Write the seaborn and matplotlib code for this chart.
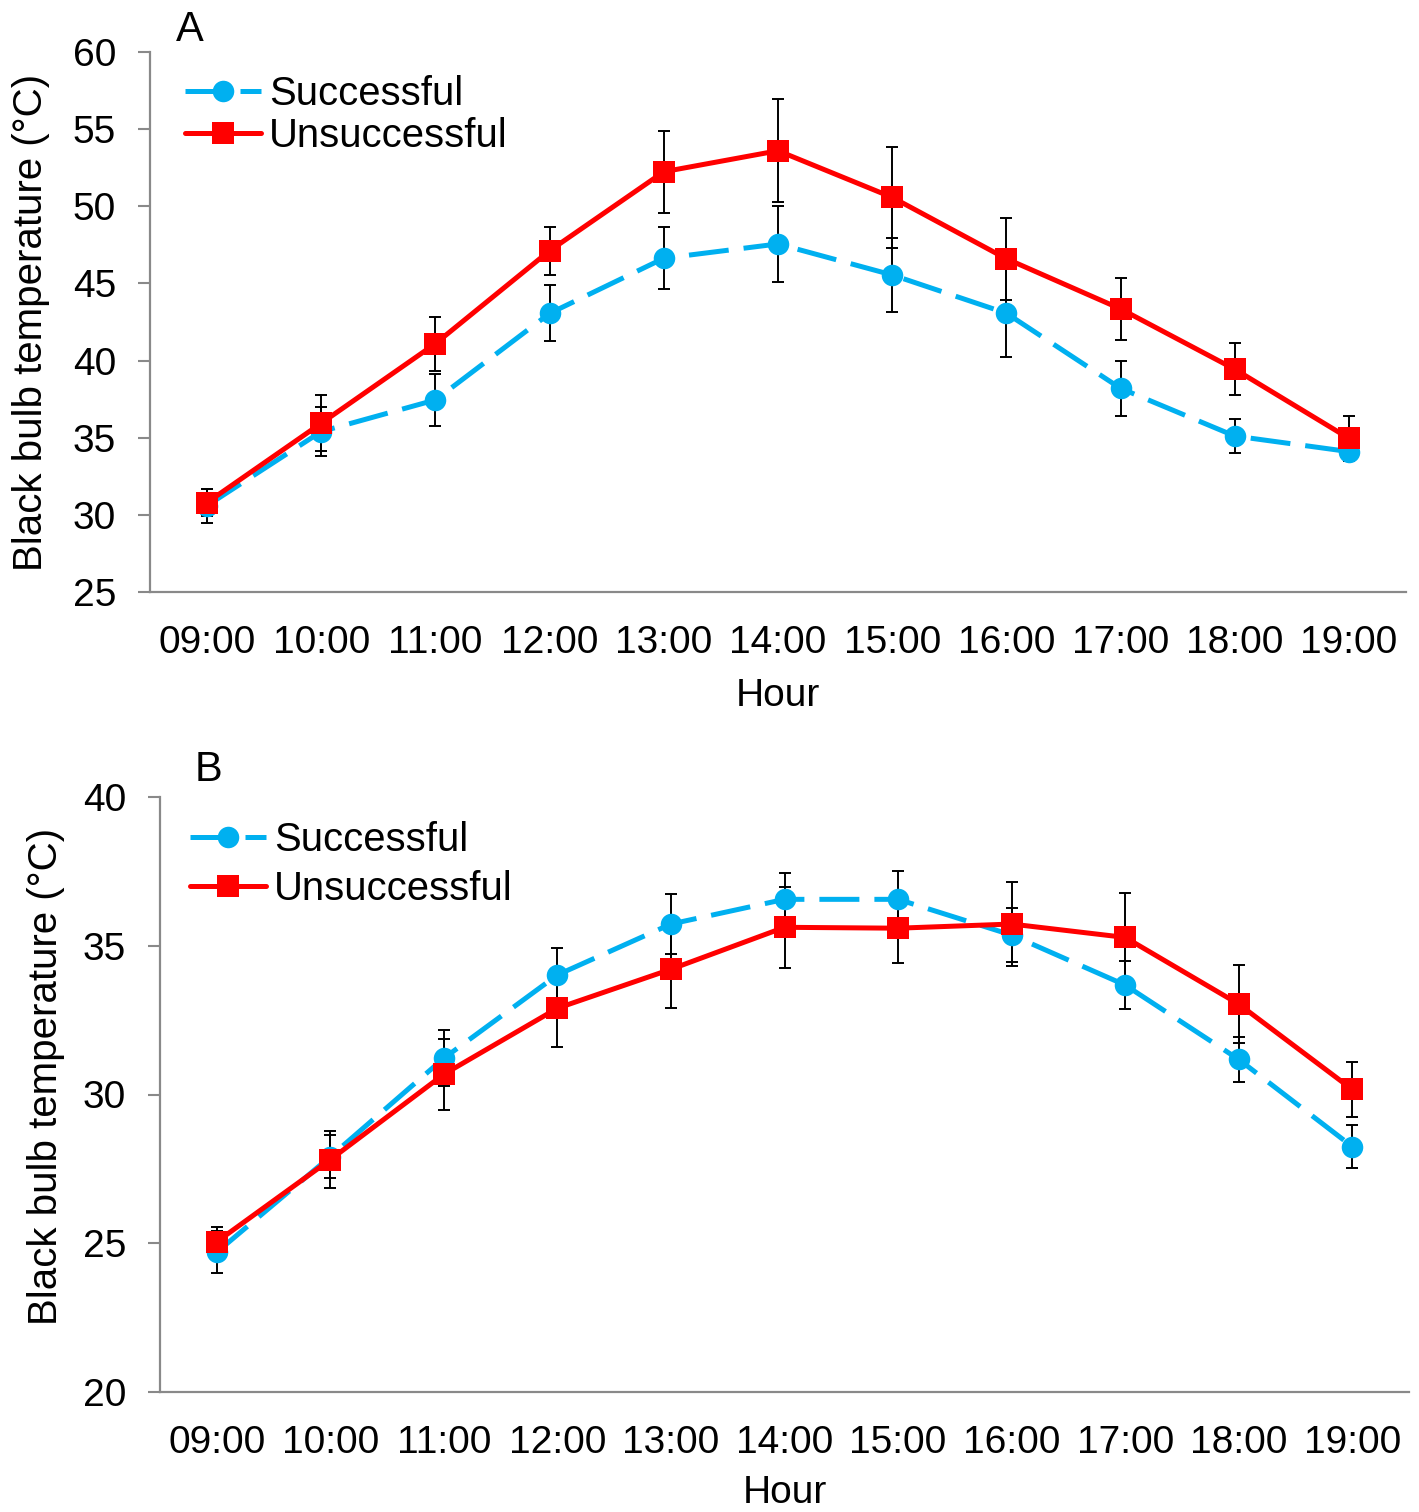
import numpy as np
import pandas as pd
import matplotlib
matplotlib.use('Agg')
import matplotlib.pyplot as plt
import seaborn as sns

# hours on the x axis (shared by both panels)
hours = ["09:00", "10:00", "11:00", "12:00", "13:00", "14:00",
         "15:00", "16:00", "17:00", "18:00", "19:00"]
groups = ["Successful", "Unsuccessful"]

# Panel A - black bulb temperature, mean and error
a_succ = [30.6, 35.4, 37.45, 43.06, 46.63, 47.56, 45.55, 43.07, 38.2, 35.11, 34.1]
a_succ_err = [1.1, 1.6, 1.7, 1.82, 2.0, 2.45, 2.4, 2.87, 1.8, 1.13, 0.5]
a_unsucc = [30.8, 35.94, 41.1, 47.12, 52.24, 53.6, 50.58, 46.6, 43.35, 39.44, 34.96]
a_unsucc_err = [0.9, 1.8, 1.75, 1.56, 2.66, 3.35, 3.28, 2.65, 2.0, 1.7, 1.45]

# Panel B
b_succ = [24.7, 27.91, 31.22, 34.02, 35.73, 36.56, 36.56, 35.36, 33.68, 31.18, 28.25]
b_succ_err = [0.7, 0.73, 0.94, 0.91, 1.0, 0.87, 0.95, 0.92, 0.8, 0.75, 0.72]
b_unsucc = [25.05, 27.81, 30.68, 32.9, 34.21, 35.62, 35.59, 35.73, 35.28, 33.04, 30.17]
b_unsucc_err = [0.5, 0.96, 1.2, 1.29, 1.29, 1.36, 1.18, 1.42, 1.5, 1.3, 0.93]

sns.set_style("white")
plt.rcParams['font.family'] = ['Liberation Sans', 'DejaVu Sans']
plt.rcParams['text.color'] = 'black'
plt.rcParams['axes.labelcolor'] = 'black'

FS = 28
W, H = 1419, 1512
fig = plt.figure(figsize=(W / 100, H / 100), dpi=100)

styles = {
    "Successful": dict(color="#00B0F0", marker="o", linestyle=(0, (8, 3))),
    "Unsuccessful": dict(color="#FF0000", marker="s", linestyle="-"),
}


def draw_panel(rect, series, ylim, yticks, leg_anchor, leg_spacing, ylab_x, ylab_y, xlab_pad):
    ax = fig.add_axes(rect)
    for name in groups:
        vals, errs = series[name]
        df = pd.DataFrame({"Hour": hours, "Temp": vals})
        st = styles[name]
        ax.errorbar(hours, vals, yerr=errs, fmt="none", ecolor="black",
                    elinewidth=1.4, capsize=4.5, capthick=1.4, zorder=2)
        sns.lineplot(data=df, x="Hour", y="Temp", ax=ax, label=name,
                     color=st["color"], marker=st["marker"], linestyle=st["linestyle"],
                     linewidth=3.6, markersize=15.5, markeredgewidth=0,
                     markeredgecolor=st["color"], zorder=3, sort=False)
    ax.set_xlim(-0.5, len(hours) - 0.5)
    ax.set_ylim(*ylim)
    ax.set_yticks(yticks)
    ax.set_xlabel("Hour", fontsize=FS, labelpad=xlab_pad)
    ax.set_ylabel("Black bulb temperature (\u00b0C)", fontsize=29)
    ax.yaxis.set_label_coords(ylab_x, ylab_y)
    ax.tick_params(axis="y", labelsize=FS, direction="out", length=8.5, width=1.5,
                   color="#898989", labelcolor="black", pad=16, left=True)
    ax.tick_params(axis="x", labelsize=FS, length=0, pad=24, labelcolor="black")
    for s in ["top", "right"]:
        ax.spines[s].set_visible(False)
    for s in ["left", "bottom"]:
        ax.spines[s].set_color("#898989")
        ax.spines[s].set_linewidth(1.6)
    ax.grid(False)
    handles, labels = ax.get_legend_handles_labels()
    ax.legend(handles, labels, loc="upper left", bbox_to_anchor=leg_anchor,
              frameon=False, fontsize=28.8, handlelength=1.9, handletextpad=0.2,
              labelspacing=leg_spacing, borderpad=0, borderaxespad=0)
    return ax


# panel A: axes spans x 150..1406, y 52..592 px
ax_a = draw_panel([150 / W, 1 - 592 / H, 1256 / W, 540 / H],
                  {"Successful": (a_succ, a_succ_err),
                   "Unsuccessful": (a_unsucc, a_unsucc_err)},
                  (25, 60), np.arange(25, 61, 5), (0.028, 0.958), 0.12,
                  -0.080, 0.5, 12)
# panel B: axes spans x 160..1409, y 797..1392 px
ax_b = draw_panel([160 / W, 1 - 1392 / H, 1249 / W, 595 / H],
                  {"Successful": (b_succ, b_succ_err),
                   "Unsuccessful": (b_unsucc, b_unsucc_err)},
                  (20, 40), np.arange(20, 41, 5), (0.024, 0.96), 0.29,
                  -0.076, 0.53, 10)

fig.text(190 / W, 1 - 30 / H, "A", fontsize=30, ha="center", va="center")
fig.text(208 / W, 1 - 770 / H, "B", fontsize=30, ha="center", va="center")

fig.savefig("out.png", dpi=100)
